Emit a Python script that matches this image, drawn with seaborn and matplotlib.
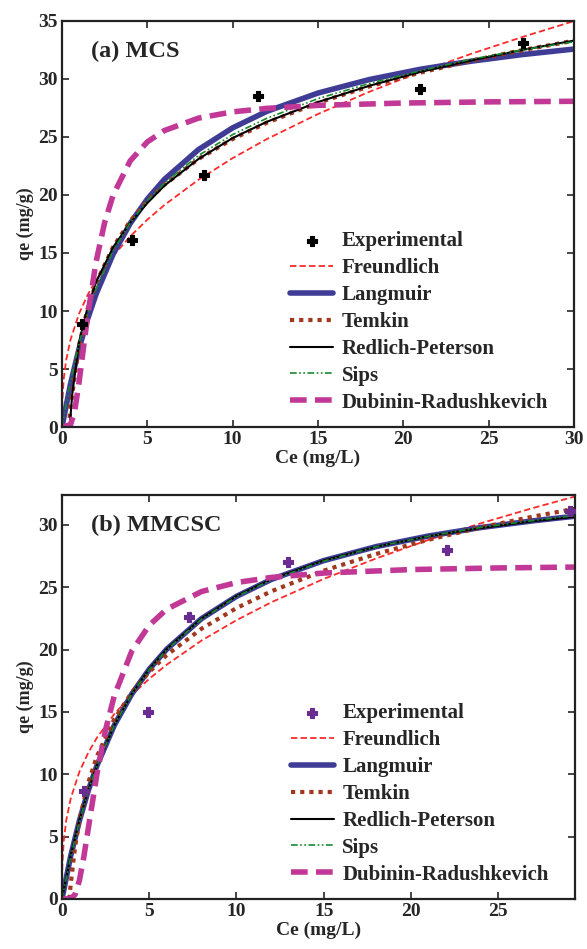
import matplotlib
matplotlib.use("Agg")
import matplotlib.pyplot as plt
import seaborn as sns

# ---------------- (a) MCS ----------------
mcs_ce = [1.2, 4.1, 8.35, 11.5, 21.0, 27.0]
mcs_qe = [8.9, 16.1, 21.7, 28.5, 29.1, 33.1]

grid_a = [0, 0.5, 1, 1.5, 2, 3, 4, 5, 6, 8, 10, 12, 15, 18, 21, 24, 27, 30]
mcs_langmuir = [0, 3.72, 6.76, 9.30, 11.46, 14.91, 17.55, 19.64, 21.34, 23.91,
                25.78, 27.20, 28.78, 29.94, 30.83, 31.53, 32.10, 32.57]
mcs_sips = [0, 4.0, 7.2, 9.8, 11.9, 15.2, 17.6, 19.5, 21.0, 23.4,
            25.2, 26.6, 28.3, 29.6, 30.7, 31.7, 32.5, 33.2]

frd_a_ce = [0, 0.02, 0.1, 0.25, 0.5, 1, 1.5, 2, 3, 4, 5, 6, 8, 10, 12, 15, 18, 21, 24, 27, 30]
mcs_freundlich = [0, 2.25, 4.12, 5.81, 7.53, 9.77, 11.37, 12.67, 14.75, 16.43, 17.87,
                  19.13, 21.31, 23.17, 24.81, 26.97, 28.88, 30.60, 32.17, 33.62, 34.98]

tmk_a_ce = [0.4, 0.5, 1, 1.5, 2, 3, 4, 5, 6, 8, 10, 12, 15, 18, 21, 24, 27, 30]
mcs_temkin = [0, 1.72, 7.06, 10.19, 12.41, 15.53, 17.75, 19.47, 20.88, 23.10,
              24.82, 26.22, 27.94, 29.35, 30.54, 31.57, 32.48, 33.29]

rp_a_ce = [0.45, 0.6, 1, 1.5, 2, 3, 4, 5, 6, 8, 10, 12, 15, 18, 21, 24, 27, 30]
mcs_redlich = [0, 2.8, 7.3, 10.3, 12.5, 15.5, 17.6, 19.3, 20.8, 23.1,
               24.9, 26.3, 28.0, 29.4, 30.6, 31.6, 32.5, 33.3]

dr_a_ce = [0, 0.5, 0.75, 1, 1.25, 1.5, 2, 2.5, 3, 4, 5, 6, 8, 10, 12, 15, 20, 25, 30]
mcs_dubinin = [0, 0.19, 1.43, 3.86, 6.72, 9.55, 14.26, 17.63, 20.0, 22.94, 24.57,
               25.55, 26.62, 27.16, 27.46, 27.72, 27.92, 28.02, 28.07]

# ---------------- (b) MMCSC ----------------
mmcsc_ce = [1.25, 4.95, 7.3, 12.95, 22.05, 29.1]
mmcsc_qe = [8.7, 15.0, 22.6, 27.0, 28.0, 31.1]

grid_b = [0, 0.5, 1, 1.5, 2, 3, 4, 5, 6, 8, 10, 12, 15, 18, 21, 24, 27, 29.4]
mmcsc_langmuir = [0, 3.45, 6.29, 8.67, 10.69, 13.94, 16.44, 18.42, 20.03, 22.49,
                  24.27, 25.63, 27.14, 28.26, 29.11, 29.79, 30.33, 30.70]
mmcsc_redlich = [0, 3.5, 6.35, 8.7, 10.7, 13.95, 16.45, 18.45, 20.05, 22.5,
                 24.3, 25.65, 27.15, 28.25, 29.1, 29.75, 30.3, 30.65]
mmcsc_sips = [0, 3.4, 6.25, 8.65, 10.7, 13.95, 16.45, 18.4, 20.0, 22.45,
              24.25, 25.6, 27.1, 28.25, 29.1, 29.8, 30.35, 30.75]

frd_b_ce = [0, 0.02, 0.1, 0.25, 0.5, 1, 1.5, 2, 3, 4, 5, 6, 8, 10, 12, 15, 18, 21, 24, 27, 29.4]
mmcsc_freundlich = [0, 2.70, 4.66, 6.37, 8.06, 10.21, 11.72, 12.93, 14.84, 16.37, 17.66,
                    18.79, 20.73, 22.36, 23.80, 25.67, 27.31, 28.80, 30.13, 31.36, 32.28]

tmk_b_ce = [0.425, 0.5, 0.75, 1, 1.5, 2, 3, 4, 5, 6, 8, 10, 12, 15, 18, 21, 24, 27, 29.4]
mmcsc_temkin = [0, 1.19, 4.19, 6.31, 9.31, 11.44, 14.43, 16.56, 18.21, 19.56, 21.68,
                23.33, 24.68, 26.33, 27.67, 28.81, 29.80, 30.67, 31.30]

dr_b_ce = [0, 0.5, 0.75, 1, 1.25, 1.5, 2, 2.5, 3, 4, 5, 6, 8, 10, 12, 15, 20, 25, 29.4]
mmcsc_dubinin = [0, 0.02, 0.36, 1.50, 3.37, 5.60, 10.0, 13.59, 16.31, 19.88, 21.95,
                 23.24, 24.66, 25.38, 25.79, 26.14, 26.42, 26.55, 26.62]

labels = ["Experimental", "Freundlich", "Langmuir", "Temkin",
          "Redlich-Peterson", "Sips", "Dubinin-Radushkevich"]

sns.set_style("ticks")
plt.rcParams['font.family'] = ['Liberation Serif', 'DejaVu Serif']
plt.rcParams['font.weight'] = 'bold'
plt.rcParams['axes.labelweight'] = 'bold'

fig = plt.figure(figsize=(5.87, 9.49), dpi=100)
ax1 = fig.add_axes([0.1056, 0.550, 0.872, 0.428])
ax2 = fig.add_axes([0.1056, 0.0527, 0.874, 0.4257])


def draw(ax, pts, curves, pcolor):
    (fx, fy), (lx, ly), (tx, ty), (rx, ry), (sx, sy), (dx, dy) = curves
    sns.lineplot(x=fx, y=fy, ax=ax, color="#ff2a2a", lw=1.3, sort=False,
                 label=labels[1], linestyle=(0, (3.5, 1.8)))
    sns.lineplot(x=lx, y=ly, ax=ax, color="#3f3c96", lw=4.0, sort=False, label=labels[2])
    sns.lineplot(x=tx, y=ty, ax=ax, color="#a0371e", lw=3.0, sort=False, label=labels[3],
                 linestyle=(0, (1, 1.2)))
    sns.lineplot(x=rx, y=ry, ax=ax, color="black", lw=1.5, sort=False, label=labels[4])
    sns.lineplot(x=sx, y=sy, ax=ax, color="#168a2e", lw=1.2, sort=False, label=labels[5],
                 linestyle=(0, (4, 1.5, 1, 1.5, 1, 1.5)))
    sns.lineplot(x=dx, y=dy, ax=ax, color="#c23896", lw=4.0, sort=False, label=labels[6],
                 linestyle=(0, (3, 1.5)))
    sns.scatterplot(x=pts[0], y=pts[1], ax=ax, color=pcolor, marker="P", s=50,
                    edgecolor=pcolor, linewidth=0.8, label=labels[0], zorder=5)
    handles, labs = ax.get_legend_handles_labels()
    order = [labs.index(l) for l in labels]
    ax.legend([handles[i] for i in order], [labs[i] for i in order],
              loc="lower left", bbox_to_anchor=(0.43, 0.015), frameon=False,
              prop={'family': ['Liberation Serif'], 'weight': 'bold', 'size': 15},
              handlelength=2.05, handletextpad=0.42, labelspacing=0.33, borderaxespad=0)


draw(ax1, (mcs_ce, mcs_qe),
     [(frd_a_ce, mcs_freundlich), (grid_a, mcs_langmuir), (tmk_a_ce, mcs_temkin),
      (rp_a_ce, mcs_redlich), (grid_a, mcs_sips), (dr_a_ce, mcs_dubinin)], "black")
draw(ax2, (mmcsc_ce, mmcsc_qe),
     [(frd_b_ce, mmcsc_freundlich), (grid_b, mmcsc_langmuir), (tmk_b_ce, mmcsc_temkin),
      (grid_b, mmcsc_redlich), (grid_b, mmcsc_sips), (dr_b_ce, mmcsc_dubinin)], "#6a2c91")

ax1.set_xlim(0, 30)
ax1.set_ylim(0, 35)
ax1.set_xticks(range(0, 31, 5))
ax1.set_yticks(range(0, 36, 5))
ax2.set_xlim(0, 29.4)
ax2.set_ylim(0, 32.4)
ax2.set_xticks(range(0, 26, 5))
ax2.set_yticks(range(0, 31, 5))

for ax, title in [(ax1, "(a) MCS"), (ax2, "(b) MMCSC")]:
    ax.text(0.057, 0.925, title, transform=ax.transAxes, fontsize=17.5,
            fontweight='bold', va='center', ha='left')
    ax.set_xlabel("Ce (mg/L)", fontsize=14, labelpad=1)
    ax.set_ylabel("qe (mg/g)", fontsize=13, labelpad=3)
    ax.tick_params(direction='in', top=True, right=True, length=5, width=1.2,
                   labelsize=14, pad=3)
    for sp in ax.spines.values():
        sp.set_linewidth(1.6)
        sp.set_color("#222222")
        sp.set_visible(True)

fig.savefig("out.png", dpi=100)
